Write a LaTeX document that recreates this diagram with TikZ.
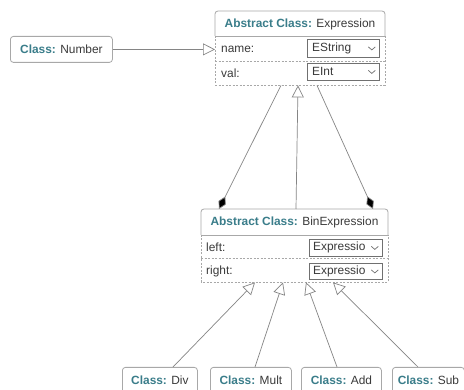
\documentclass[tikz,border=0pt]{standalone}
\usepackage{fontspec}
\setmainfont{Liberation Sans}
\usetikzlibrary{arrows.meta,calc}
\definecolor{teal1}{HTML}{3A7D8A}
\definecolor{bord}{HTML}{A8A8A8}
\definecolor{ddc}{HTML}{707070}
\definecolor{lnc}{HTML}{858585}
\definecolor{txt}{HTML}{3A3A3A}
\newcommand\chevr[1]{\draw[ddc, line width=0.7] ($(#1.east)+(-11.5,-1.5)$) -- ++(3.5,3) -- ++(3.5,-3);}
\begin{document}
\begin{tikzpicture}[x=1pt,y=-1pt, font=\fontsize{11.9}{13}\selectfont, text=txt,
 cls/.style={draw=bord, rounded corners=3, fill=white, inner sep=0, line width=0.8, anchor=north west},
 area/.style={draw=none, inner sep=0, anchor=north west},
 ddbox/.style={draw=ddc, inner sep=0, line width=0.8, anchor=north west, minimum height=18},
 lbl/.style={anchor=west, inner sep=0},
 conn/.style={draw=lnc, line width=0.7},
 gen/.style={conn, -{Triangle[open, length=12, width=12, fill=white]}},
 comp/.style={conn, {Diamond[length=14, width=8, fill=black]}-}]
\useasboundingbox (0,0) rectangle (464,390);
\clip (0,0) rectangle (464,390);
\fill[white] (0,0) rectangle (464,390);

% Number
\node[cls, minimum width=102, minimum height=26] (num) at (10,36) {\textcolor{teal1}{\bfseries Class:} Number};

% Expression
\node[area, minimum width=170, minimum height=74] (expr) at (215,11) {};
\draw[bord, line width=0.8, rounded corners=3] (215,36) -- (215,11) -- (385,11) -- (385,36);
\draw[bord, line width=0.8] (215,36) -- (385,36);
\draw[bord, line width=0.8, dashed, dash pattern=on 2pt off 1.5pt] (215,36) rectangle (385,85);
\draw[bord, line width=0.8, dashed, dash pattern=on 2pt off 1.5pt] (215,61) -- (385,61);
\node[inner sep=0] (exprt) at (300,24) {\textcolor{teal1}{\bfseries Abstract Class:} Expression};
\node[lbl] (ename) at (221,49) {name:};
\node[lbl] (eval) at (221,73) {val:};
\node[ddbox, minimum width=72] (d1) at (307,39) {};
\node[lbl] (d1t) at ($(d1.west)+(5,0)$) {EString};
\chevr{d1}
\node[ddbox, minimum width=72, minimum height=17] (d2) at (307,63) {};
\node[lbl] (d2t) at ($(d2.west)+(5,0)$) {EInt};
\chevr{d2}

% BinExpression
\node[area, minimum width=187, minimum height=73] (bin) at (201,209) {};
\draw[bord, line width=0.8, rounded corners=3] (201,235) -- (201,209) -- (388,209) -- (388,235);
\draw[bord, line width=0.8] (201,235) -- (388,235);
\draw[bord, line width=0.8, dashed, dash pattern=on 2pt off 1.5pt] (201,235) rectangle (388,282);
\draw[bord, line width=0.8, dashed, dash pattern=on 2pt off 1.5pt] (201,258) -- (388,258);
\node[inner sep=0] (bint) at (294.5,222) {\textcolor{teal1}{\bfseries Abstract Class:} BinExpression};
\node[lbl] (bleft) at (206,247) {left:};
\node[lbl] (bright) at (206,271) {right:};
\node[ddbox, minimum width=73, minimum height=17] (d3) at (309,239) {};
\node[lbl] (d3t) at ($(d3.west)+(4,0)$) {Expressio};
\chevr{d3}
\node[ddbox, minimum width=73, minimum height=16] (d4) at (309,263) {};
\node[lbl] (d4t) at ($(d4.west)+(4,0)$) {Expressio};
\chevr{d4}

% subclasses
\node[cls, minimum width=75, minimum height=26] (div) at (122,367) {\textcolor{teal1}{\bfseries Class:} Div};
\node[cls, minimum width=81, minimum height=26] (mult) at (210,367) {\textcolor{teal1}{\bfseries Class:} Mult};
\node[cls, minimum width=80, minimum height=26] (add) at (301,367) {\textcolor{teal1}{\bfseries Class:} Add};
\node[cls, minimum width=72, minimum height=26] (sub) at (392,367) {\textcolor{teal1}{\bfseries Class:} Sub};

% connectors
\draw[gen] (num.east) -- (expr.west |- num.east);
\draw[comp] ($(bin.north west)+(18,0)$) -- ($(expr.south west)+(66,0)$);
\draw[comp] ($(bin.north west)+(172,0)$) -- ($(expr.south west)+(102,0)$);
\draw[gen] ($(bin.north west)+(95,0)$) -- ($(expr.south west)+(83,0)$);
\draw[gen] ($(div.north west)+(51,0)$) -- ($(bin.south west)+(54,0)$);
\draw[gen] ($(mult.north west)+(45,0)$) -- ($(bin.south west)+(82,0)$);
\draw[gen] ($(add.north west)+(36,0)$) -- ($(bin.south west)+(105,0)$);
\draw[gen] ($(sub.north west)+(26,0)$) -- ($(bin.south west)+(132,0)$);
\end{tikzpicture}
\end{document}
